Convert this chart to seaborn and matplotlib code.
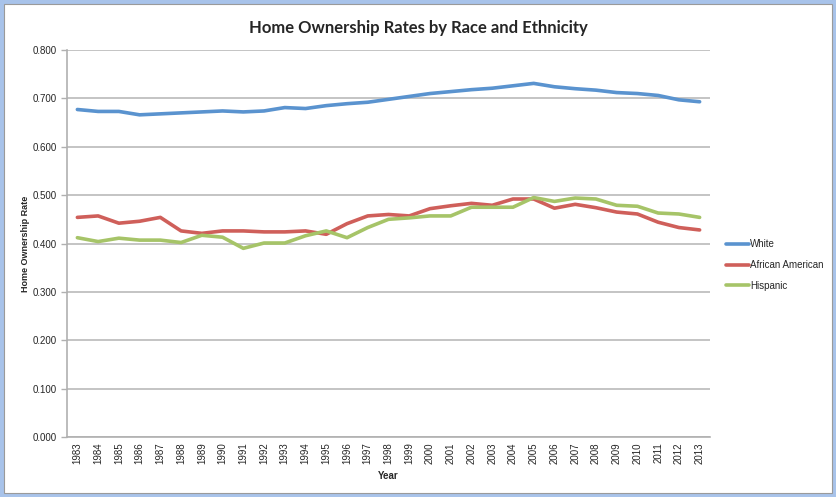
import numpy as np
import pandas as pd
import matplotlib.pyplot as plt
import matplotlib.patches as mpatches
import seaborn as sns

years = list(range(1983, 2014))
white = [0.677, 0.673, 0.673, 0.666, 0.668, 0.670, 0.672, 0.674, 0.672, 0.674,
         0.681, 0.679, 0.685, 0.689, 0.692, 0.698, 0.704, 0.710, 0.714, 0.718,
         0.721, 0.726, 0.731, 0.724, 0.720, 0.717, 0.712, 0.710, 0.706, 0.697, 0.693]
african_american = [0.454, 0.457, 0.442, 0.446, 0.454, 0.426, 0.421, 0.426, 0.426, 0.424,
                    0.424, 0.426, 0.419, 0.441, 0.457, 0.460, 0.457, 0.472, 0.478, 0.483,
                    0.479, 0.492, 0.492, 0.473, 0.481, 0.474, 0.465, 0.461, 0.444, 0.433, 0.428]
hispanic = [0.412, 0.404, 0.411, 0.407, 0.407, 0.402, 0.417, 0.413, 0.390, 0.401,
            0.401, 0.416, 0.426, 0.412, 0.433, 0.450, 0.453, 0.457, 0.457, 0.475,
            0.475, 0.475, 0.495, 0.487, 0.494, 0.492, 0.479, 0.477, 0.463, 0.461, 0.454]
series_names = ['White', 'African American', 'Hispanic']
colors = ['#5a93cf', '#cf5f5a', '#a6c468']

df = pd.DataFrame({'Year': years, 'White': white,
                   'African American': african_american, 'Hispanic': hispanic})
long = df.melt(id_vars='Year', var_name='Group', value_name='Rate')

sns.set_style('white')
plt.rcParams['font.family'] = ['Liberation Sans', 'DejaVu Sans']

fig = plt.figure(figsize=(8.37, 4.97), dpi=100)
fig.patch.set_facecolor('#a8c3ea')
fig.patches.append(mpatches.Rectangle((4 / 837, 4 / 497), 828 / 837, 489 / 497,
                                      transform=fig.transFigure, facecolor='white',
                                      edgecolor='#9a9a9a', linewidth=0.8, zorder=-5))
ax = fig.add_axes([67 / 837, 60 / 497, 643 / 837, 387 / 497])

sns.lineplot(data=long, x='Year', y='Rate', hue='Group', hue_order=series_names,
             palette=colors, linewidth=2.6, ax=ax, legend=True)

ax.set_xlim(1982.5, 2013.5)
ax.set_ylim(0, 0.8)
ax.set_yticks(np.arange(0, 0.81, 0.1))
ax.set_yticklabels([f'{v:.3f}' for v in np.arange(0, 0.81, 0.1)], fontsize=7)
ax.set_xticks(years)
ax.set_xticklabels([str(y) for y in years], rotation=90, fontsize=7)
ax.set_xticks(np.arange(1982.5, 2014, 1), minor=True)
ax.tick_params(axis='x', which='major', length=0, pad=4)
ax.tick_params(axis='x', which='minor', length=4, color='#b0b0b0', width=1, direction='out')
ax.tick_params(axis='y', length=4, color='#b0b0b0', width=1, direction='out', left=True)
ax.grid(axis='y', color='#c4c4c4', linewidth=1.4)
ax.set_axisbelow(True)
for side in ['top', 'right']:
    ax.spines[side].set_visible(False)
for side in ['left', 'bottom']:
    ax.spines[side].set_color('#b0b0b0')
    ax.spines[side].set_linewidth(1.2)

ax.set_xlabel('Year', fontsize=7, fontweight='bold', labelpad=5)
ax.set_ylabel('Home Ownership Rate', fontsize=6.5, fontweight='bold', labelpad=2)
fig.suptitle('Home Ownership Rates by Race and Ethnicity', x=0.5, y=(497 - 20) / 497,
             va='top', fontsize=12, fontweight='bold', family=['Lato', 'DejaVu Sans'])

ax.legend(loc='center left', bbox_to_anchor=(717 / 837, 232 / 497),
          bbox_transform=fig.transFigure, frameon=False, fontsize=7,
          handlelength=2.4, handletextpad=0.1, labelspacing=1.1)

fig.savefig('out.png', dpi=100, facecolor=fig.get_facecolor())
